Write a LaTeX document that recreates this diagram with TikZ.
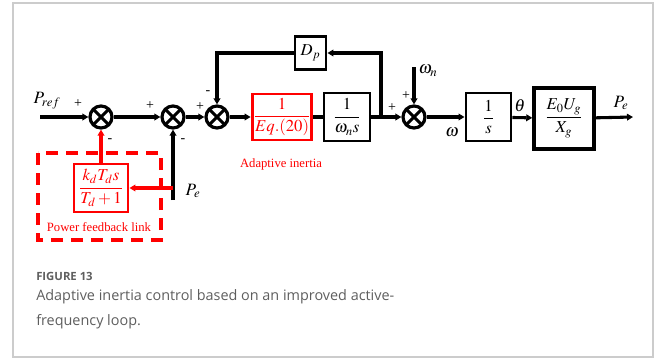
\documentclass[tikz,border=0pt]{standalone}
\usepackage{amsmath}
\usepackage{mathptmx}
\usepackage{fontspec}
\setmainfont{Liberation Serif}
\newfontfamily\capfont{Open Sans}
\usepackage{tikz}
\usetikzlibrary{positioning,arrows.meta}
\definecolor{ink}{HTML}{000000}
\definecolor{alert}{HTML}{FF0000}
\definecolor{capgray}{HTML}{5E5E5E}
\definecolor{frame}{HTML}{CCCCCC}

\begin{document}
\begin{tikzpicture}[
  x=0.75pt, y=-0.75pt,
  sumnode/.style = {circle, draw=ink, line width=2.4pt, minimum size=16.5pt, inner sep=0pt,
                  path picture={\draw[line width=2.2pt]
                    (path picture bounding box.north west) -- (path picture bounding box.south east)
                    (path picture bounding box.north east) -- (path picture bounding box.south west);}},
  blk/.style     = {draw=ink, line width=2.2pt, fill=white, inner sep=1pt, align=center,
                  font=\fontsize{12.5}{13}\selectfont},
  redblk/.style  = {blk, draw=alert, text=alert},
  sig/.style     = {-{Triangle[length=4.5pt, width=5pt]}, line width=2.3pt, draw=ink},
  redsig/.style  = {sig, draw=alert},
  sgn/.style     = {font=\fontsize{10.5}{10}\selectfont, inner sep=0pt},
  lbl/.style     = {font=\fontsize{13}{13}\selectfont, inner sep=0pt},
  note/.style    = {font=\fontsize{9.5}{10}\selectfont, text=alert, inner sep=0pt},
]
\useasboundingbox (0,0) rectangle (656,358);
\draw[frame, line width=0.8pt] (13,3) rectangle (653,357);

% summing junctions
\node[sumnode] (s1) at (101,117) {};
\node[sumnode] (s2) at (173,117) {};
\node[sumnode] (s3) at (217,117) {};
\node[sumnode] (s4) at (414,117) {};

% blocks
\node[redblk, minimum width=43.5pt, minimum height=34.5pt] (eq) at (282,117) {$\dfrac{1}{Eq.(20)}$};
\node[blk, minimum width=34.5pt, minimum height=36pt] (wn) at (347,117) {$\dfrac{1}{\omega_n s}$};
\node[blk, minimum width=23.25pt, minimum height=24.75pt] (dp) at (310.5,53) {$D_p$};
\node[blk, minimum width=33.75pt, minimum height=36pt] (int) at (488.5,117) {$\dfrac{1}{s}$};
\node[blk, line width=2.6pt, minimum width=45pt, minimum height=45.75pt] (gen) at (564,118.5) {$\dfrac{E_0U_g}{X_g}$};
\node[redblk, minimum width=40.5pt, minimum height=36pt] (fb) at (101,188) {$\dfrac{k_dT_ds}{T_d+1}$};

\draw[alert, line width=2.4pt, dash pattern=on 9pt off 6pt] (38,153) rectangle (161,240);
\node[note] (adl) at (281,164) {Adaptive inertia};
\node[note] (pfl) at (99,227) {Power feedback link};

% free ends
\coordinate (pin) at (40,117);
\coordinate (wref) at (414,67);
\coordinate (pout) at (633,117);
\coordinate (pfb) at (173,200);
\coordinate (tap) at (173,188);
\coordinate (br) at (381,117);

% forward path
\draw[sig] (pin) -- (s1);
\draw[sig] (s1) -- (s2);
\draw[sig] (s2) -- (s3);
\draw[sig] (s3) -- (eq);
\draw[line width=2.3pt] (eq) -- (wn);
\draw[sig] (wn) -- (s4);
\draw[sig] (s4) -- (int);
\draw[sig] (int) -- (gen);
\draw[sig] (gen) -- (pout);

% damping loop
\draw[sig] (br) |- (dp.east);
\draw[sig] (dp.west) -| (s3.north);
\draw[sig] (wref) -- (s4.north);

% power feedback
\draw[sig] (pfb) -- (s2.south);
\draw[redsig] (tap) -- (fb.east);
\draw[redsig] (fb.north) -- (s1.south);

% signs
\node[sgn] at (78,104) {+};
\node[sgn] at (110,141) {-};
\node[sgn] at (150,106) {+};
\node[sgn] at (183,141) {-};
\node[sgn] at (200,107) {+};
\node[sgn] at (208,93) {-};
\node[sgn] at (392,108) {+};
\node[sgn] at (406,96) {+};

% signal names
\node[lbl] at (47,101) {$P_{ref}$};
\node[lbl] at (428,71) {$\omega_n$};
\node[lbl] at (452,132) {$\omega$};
\node[lbl] at (520,106) {$\theta$};
\node[lbl] at (621,103) {$P_e$};
\node[lbl] at (193,191) {$P_e$};

% caption
\node[anchor=west, inner sep=0pt, text=capgray, font=\capfont\bfseries\fontsize{8.5}{10}\selectfont] (fig) at (36,276) {FIGURE 13};
\node[anchor=west, inner sep=0pt, text=capgray, font=\capfont\fontsize{10.8}{12}\selectfont] (cap1) at (36,297) {Adaptive inertia control based on an improved active-};
\node[anchor=west, inner sep=0pt, text=capgray, font=\capfont\fontsize{10.8}{12}\selectfont] (cap2) at (36,322) {frequency loop.};
\end{tikzpicture}
\end{document}
